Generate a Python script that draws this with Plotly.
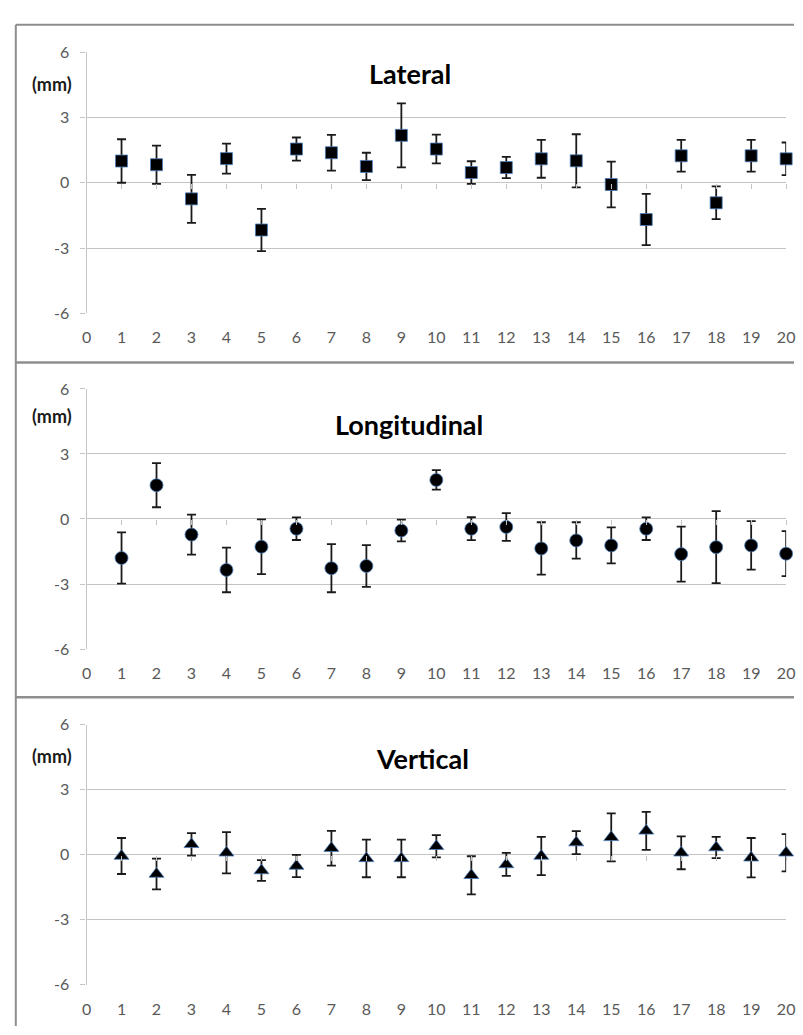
import plotly.graph_objects as go

# ---------------- data ----------------
subjects = list(range(1, 21))
x_ticks = list(range(0, 21))
y_ticks = [-6, -3, 0, 3, 6]
y_tick_text = ["-6", "-3", "0", "3", "6"]

lateral_mean = [1.0, 0.83, -0.74, 1.11, -2.17, 1.55, 1.38, 0.75, 2.18, 1.55,
                0.47, 0.70, 1.10, 1.01, -0.08, -1.69, 1.24, -0.92, 1.24, 1.10]
lateral_sd = [1.0, 0.88, 1.10, 0.69, 0.97, 0.53, 0.82, 0.63, 1.47, 0.66,
              0.52, 0.49, 0.87, 1.22, 1.05, 1.18, 0.73, 0.75, 0.73, 0.75]

longitudinal_mean = [-1.80, 1.56, -0.72, -2.35, -1.28, -0.45, -2.27, -2.17, -0.53, 1.80,
                     -0.45, -0.37, -1.36, -0.99, -1.22, -0.45, -1.62, -1.30, -1.22, -1.60]
longitudinal_sd = [1.18, 1.02, 0.92, 1.03, 1.26, 0.52, 1.11, 0.96, 0.50, 0.45,
                   0.53, 0.64, 1.21, 0.84, 0.83, 0.52, 1.27, 1.66, 1.12, 1.04]

vertical_mean = [-0.06, -0.89, 0.48, 0.09, -0.73, -0.52, 0.30, -0.17, -0.17, 0.39,
                 -0.95, -0.45, -0.06, 0.56, 0.80, 1.10, 0.09, 0.33, -0.14, 0.09]
vertical_sd = [0.83, 0.71, 0.52, 0.95, 0.48, 0.51, 0.80, 0.87, 0.87, 0.51,
               0.88, 0.53, 0.88, 0.53, 1.11, 0.88, 0.76, 0.49, 0.91, 0.86]

panel_titles = ["Lateral", "Longitudinal", "Vertical"]
unit_label = "(mm)"

# ---------------- layout constants ----------------
W, H = 803, 1035
FONT = "Lato, 'Open Sans', sans-serif"
GRID = "#c4c4c4"
BORDER = "#8e8e8e"
TICKFONT = dict(family=FONT, size=16, color="#595959")

def py(p):  # pixel y -> paper y
    return 1 - p / H

def px(p):  # pixel x -> paper x
    return p / W

x_dom = [px(83), px(795)]
panels = [
    dict(top=43, bottom=309, title_y=65, title_x=412, mm_y=75,
         mean=lateral_mean, sd=lateral_sd, symbol="square", size=12),
    dict(top=386, bottom=651, title_y=422, title_x=411, mm_y=414,
         mean=longitudinal_mean, sd=longitudinal_sd, symbol="circle", size=13),
    dict(top=728, bottom=993, title_y=762, title_x=425, mm_y=760,
         mean=vertical_mean, sd=vertical_sd, symbol="triangle-up", size=13),
]

fig = go.Figure()
layout = dict(
    width=W, height=H,
    margin=dict(l=0, r=0, t=0, b=0),
    paper_bgcolor="white", plot_bgcolor="white",
    showlegend=False,
    annotations=[], shapes=[],
)

for i, p in enumerate(panels):
    n = i + 1
    xa = "x" if n == 1 else f"x{n}"
    ya = "y" if n == 1 else f"y{n}"
    xkey = "xaxis" if n == 1 else f"xaxis{n}"
    ykey = "yaxis" if n == 1 else f"yaxis{n}"
    ydom = [py(p["bottom"]), py(p["top"])]

    fig.add_trace(go.Scatter(
        x=subjects, y=p["mean"], mode="markers",
        xaxis=xa, yaxis=ya,
        marker=dict(symbol=p["symbol"], size=p["size"],
                    color="black", line=dict(color="#4a7ebb", width=0.8)),
        error_y=dict(type="data", array=p["sd"], visible=True,
                     color="#1a1a1a", thickness=1.8, width=4.5),
        cliponaxis=False,
    ))

    layout[xkey] = dict(
        domain=x_dom, anchor=ya, range=[0, 20], tickmode="array", tickvals=x_ticks,
        showgrid=False, zeroline=False, showline=False, ticks="",
        tickfont=TICKFONT, ticklabelstandoff=13, ticklabeloverflow="allow",
        fixedrange=True,
    )
    layout[ykey] = dict(
        domain=ydom, anchor=xa, range=[-6, 6], tickmode="array",
        tickvals=y_ticks, ticktext=y_tick_text,
        showgrid=True, gridcolor=GRID, gridwidth=1.3,
        zeroline=False, showline=True, linecolor=GRID, linewidth=1.3,
        ticks="outside", ticklen=5, tickcolor=GRID, tickwidth=1.3,
        tickfont=TICKFONT, ticklabelstandoff=8, fixedrange=True,
    )

    # overlay x axis drawing the small tick marks along the zero line
    okey = f"xaxis{n + 3}"
    oa = f"x{n + 3}"
    zero_pos = ydom[0] + (ydom[1] - ydom[0]) * 0.5
    layout[okey] = dict(
        overlaying=xa, anchor="free", position=zero_pos, domain=x_dom,
        range=[0, 20], tickmode="array", tickvals=x_ticks,
        showgrid=False, zeroline=False, showline=False,
        ticks="outside", ticklen=5, tickcolor=GRID, tickwidth=1.3,
        showticklabels=False, fixedrange=True,
    )
    fig.add_trace(go.Scatter(x=[], y=[], xaxis=oa, yaxis=ya, hoverinfo="skip"))

    layout["annotations"].append(dict(
        text=f"<b>{panel_titles[i]}</b>", xref="paper", yref="paper",
        x=px(p["title_x"]), y=py(p["title_y"]), xanchor="center", yanchor="middle",
        showarrow=False, font=dict(family=FONT, size=27, color="black"),
    ))
    layout["annotations"].append(dict(
        text=f"<b>{unit_label}</b>", xref="paper", yref="paper",
        x=px(48), y=py(p["mm_y"]), xanchor="center", yanchor="middle",
        showarrow=False, font=dict(family=FONT, size=18, color="#1a1a1a"),
    ))

# chart-area borders (decoration)
layout["shapes"] = [
    dict(type="line", xref="paper", yref="paper", x0=px(11), x1=1, y0=py(15), y1=py(15),
         line=dict(color=BORDER, width=2)),
    dict(type="line", xref="paper", yref="paper", x0=px(11), x1=px(11), y0=py(15), y1=0,
         line=dict(color=BORDER, width=2)),
    dict(type="line", xref="paper", yref="paper", x0=px(11), x1=1, y0=py(359), y1=py(359),
         line=dict(color=BORDER, width=2.5)),
    dict(type="line", xref="paper", yref="paper", x0=px(11), x1=1, y0=py(700), y1=py(700),
         line=dict(color=BORDER, width=2.5)),
]

fig.update_layout(**layout)
fig.write_html(
    "out.html",
    config={"displayModeBar": False},
    post_script="document.body.style.margin='0';document.body.style.overflow='hidden';",
)
